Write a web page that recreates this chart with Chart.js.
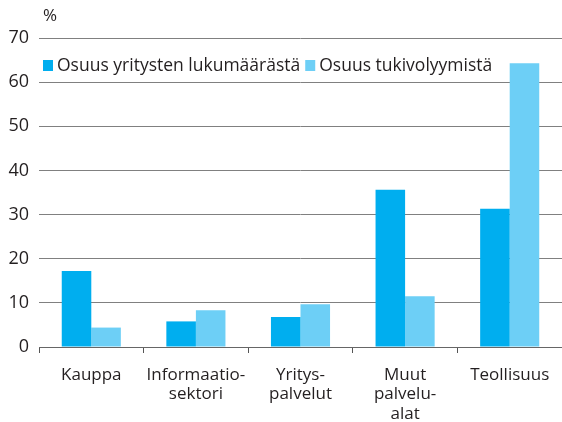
<!DOCTYPE html>
<html>
<head>
<meta charset="utf-8">
<script src="https://cdn.jsdelivr.net/npm/chart.js@4"></script>
<style>
  html, body { margin: 0; padding: 0; background: #fff; }
  #wrap { width: 562px; height: 422px; position: relative; }
</style>
</head>
<body>
<div id="wrap"><canvas id="chart"></canvas></div>
<script>
// Toimialat ja osuudet (%)
const categories = [
    'Kauppa',
    ['Informaatio-', 'sektori'],
    ['Yritys-', 'palvelut'],
    ['Muut', 'palvelu-', 'alat'],
    'Teollisuus'
];
const seriesNames = ['Osuus yritysten lukumäärästä', 'Osuus tukivolyymistä'];
const shareOfFirms = [17.2, 5.8, 6.8, 35.6, 31.3];
const shareOfSupport = [4.4, 8.3, 9.7, 11.5, 64.3];
const yTicks = [0, 10, 20, 30, 40, 50, 60, 70];
const unitLabel = '%';

const FONT = '"Open Sans", "Noto Sans", sans-serif';
const TEXT = '#231f20';
const DARK = '#00aeef';
const LIGHT = '#6dcff6';

// Legenda ja yksikkö piirretään itse kuva-alueen sisään
const extras = {
    id: 'extras',
    afterDraw(chart) {
        const ctx = chart.ctx;
        const area = chart.chartArea;
        ctx.save();
        ctx.fillStyle = TEXT;
        ctx.font = '17px ' + FONT;
        ctx.textBaseline = 'middle';
        ctx.textAlign = 'left';
        ctx.fillText(unitLabel, area.left + 4, 16);

        ctx.font = '17.5px ' + FONT;
        ctx.textBaseline = 'alphabetic';
        let x = area.left + 4;
        const y = 71;
        chart.data.datasets.forEach(ds => {
            ctx.fillStyle = ds.backgroundColor;
            ctx.fillRect(x, y - 11, 10, 11);
            ctx.fillStyle = TEXT;
            ctx.fillText(ds.label, x + 14, y);
            x += 14 + ctx.measureText(ds.label).width + 5;
        });
        ctx.restore();
    }
};

new Chart(document.getElementById('chart'), {
    type: 'bar',
    data: {
        labels: categories,
        datasets: [
            { label: seriesNames[0], data: shareOfFirms, backgroundColor: DARK },
            { label: seriesNames[1], data: shareOfSupport, backgroundColor: LIGHT }
        ]
    },
    options: {
        responsive: true,
        maintainAspectRatio: false,
        animation: false,
        layout: { padding: { top: 38, right: 0, left: 0, bottom: 0 } },
        datasets: {
            bar: { categoryPercentage: 0.565, barPercentage: 1.0, borderWidth: 0 }
        },
        scales: {
            x: {
                grid: {
                    offset: true,
                    drawOnChartArea: false,
                    drawTicks: true,
                    tickLength: 6,
                    color: '#555'
                },
                border: { display: true, color: '#666', width: 1 },
                ticks: {
                    color: TEXT,
                    font: { family: FONT, size: 17, lineHeight: 1.15 },
                    padding: 12,
                    maxRotation: 0,
                    autoSkip: false
                },
                afterFit(scale) { scale.height = 75; }
            },
            y: {
                min: 0,
                max: 70,
                afterBuildTicks(scale) { scale.ticks = yTicks.map(v => ({ value: v })); },
                grid: { color: '#808080', lineWidth: 1, drawTicks: false },
                border: { display: false },
                ticks: {
                    color: TEXT,
                    font: { family: FONT, size: 18 },
                    padding: 10
                },
                afterFit(scale) { scale.width = 39; }
            }
        },
        plugins: {
            legend: { display: false },
            tooltip: { enabled: false }
        }
    },
    plugins: [extras]
});
</script>
</body>
</html>
